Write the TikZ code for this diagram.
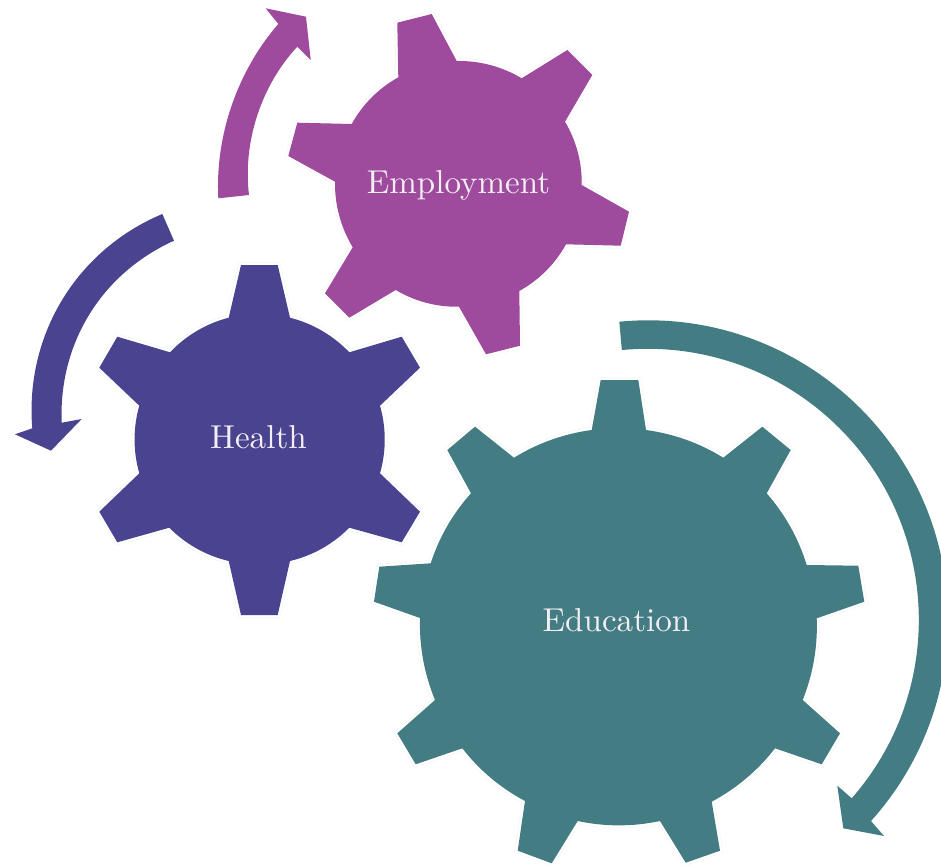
\documentclass[tikz,border=0pt]{standalone}
\definecolor{cPurple}{RGB}{158,74,157}
\definecolor{cBlue}{RGB}{74,68,144}
\definecolor{cTeal}{RGB}{67,125,131}
\definecolor{cHalo}{RGB}{246,246,248}
\definecolor{cText}{RGB}{243,238,243}
\tikzset{
  gearshape/.style={fill=#1,preaction={draw=cHalo,line width=6pt,line join=miter},preaction={draw=white,line width=4.5pt,line join=miter}},
  rim/.style={bend left=#1,looseness=.87},
  label text/.style={text=cText,anchor=base,inner sep=0pt,scale=3.31,font=\fontsize{10}{12}\selectfont},
}
\begin{document}
\begin{tikzpicture}[x=1pt,y=1pt]
\useasboundingbox (0,0) rectangle (941,-864);
\fill[white] (0,0) rectangle (941,-864);
\clip (0,0) rectangle (941,-864);

% Employment gear
\path[gearshape=cPurple]
 (397.3,-22.7) -- (431.7,-14) -- (456.7,-61) to[rim=16] (521.7,-78.3)
 -- (567.3,-50) -- (592.3,-75) -- (565,-121.7) to[rim=16] (581.7,-185)
 -- (629,-211.7) -- (620.7,-245.7) -- (566,-244.3) to[rim=16] (519.3,-291)
 -- (520,-345.7) -- (486,-354.3) -- (459,-306.7) to[rim=16] (395.7,-290)
 -- (349.3,-317.7) -- (325,-293.3) -- (352.7,-247.3) to[rim=16] (335,-181.7)
 -- (288.3,-156) -- (297.3,-122.7) -- (351.7,-124) to[rim=16] (398.3,-77.3) -- cycle;

% Health gear
\path[gearshape=cBlue]
 (241,-265) -- (277.7,-265) -- (290,-317.7) to[rim=16] (349.3,-352.3)
 -- (401.7,-336.7) -- (420,-367.7) -- (380,-405.7) to[rim=16] (380,-473.3)
 -- (420,-511.7) -- (401.7,-542.3) -- (349.3,-527.7) to[rim=16] (290,-561)
 -- (277.7,-615) -- (241,-615) -- (228.7,-561) to[rim=16] (169.3,-527.7)
 -- (117.3,-542.3) -- (99.3,-511.7) -- (139.3,-473.3) to[rim=16] (139.3,-405.7)
 -- (99.3,-367.7) -- (117.3,-336.7) -- (170,-352.3) to[rim=16] (228.7,-317.7) -- cycle;

% Education gear
\path[gearshape=cTeal]
 (600.7,-380) -- (638.3,-380) -- (646,-430) to[rim=12] (723.3,-457.7)
 -- (762.3,-426.7) -- (790.7,-450) -- (766.7,-493.3) to[rim=12] (806.7,-565)
 -- (858.3,-565.7) -- (864.3,-601.7) -- (816.7,-618.3) to[rim=12] (802.7,-700)
 -- (840,-733.3) -- (821.7,-764.3) -- (775,-748.3) to[rim=12] (711.7,-801.7)
 -- (720,-850.7) -- (685.7,-862.7) -- (660,-821) to[rim=12] (577.7,-821)
 -- (551.7,-863.3) -- (517.7,-850.7) -- (525,-801) to[rim=12] (462.3,-748.3)
 -- (415.7,-764.3) -- (397.3,-733.3) -- (435,-700) to[rim=12] (420,-618)
 -- (374,-601.7) -- (379.3,-566.7) -- (430.7,-563.3) to[rim=12] (471,-493.3)
 -- (447.3,-450) -- (475,-426.7) -- (514,-457.7) to[rim=12] (591.7,-430) -- cycle;

% Curved arrows
\fill[cPurple] (218.3,-198.3) to[bend left=22,looseness=.87] (278.3,-24)
 -- (265.7,-8.3) -- (306,-16.7) -- (310.7,-60) -- (297.3,-46.7)
 to[bend right=25,looseness=.87] (249,-195) -- cycle;

\fill[cBlue] (162.3,-214) to[bend right=36,looseness=.95] (32.3,-428.3)
 -- (15,-434.3) -- (51,-450.7) -- (81.7,-419) -- (61.7,-422.7)
 to[bend left=34,looseness=.95] (174,-240.7) -- cycle;

\fill[cTeal] (619.3,-321.7) arc[start angle=95.5,end angle=-42,radius=300]
 -- (884,-836) -- (843.3,-828.3) -- (837.3,-785.7) -- (851.7,-798.3)
 arc[start angle=-41.2,end angle=95.5,radius=271] -- cycle;

% Labels
\node[label text] (employment) at (458.5,-193) {Employment};
\node[label text] (health) at (258.5,-448) {Health};
\node[label text] (education) at (616.5,-631) {Education};
\end{tikzpicture}
\end{document}
